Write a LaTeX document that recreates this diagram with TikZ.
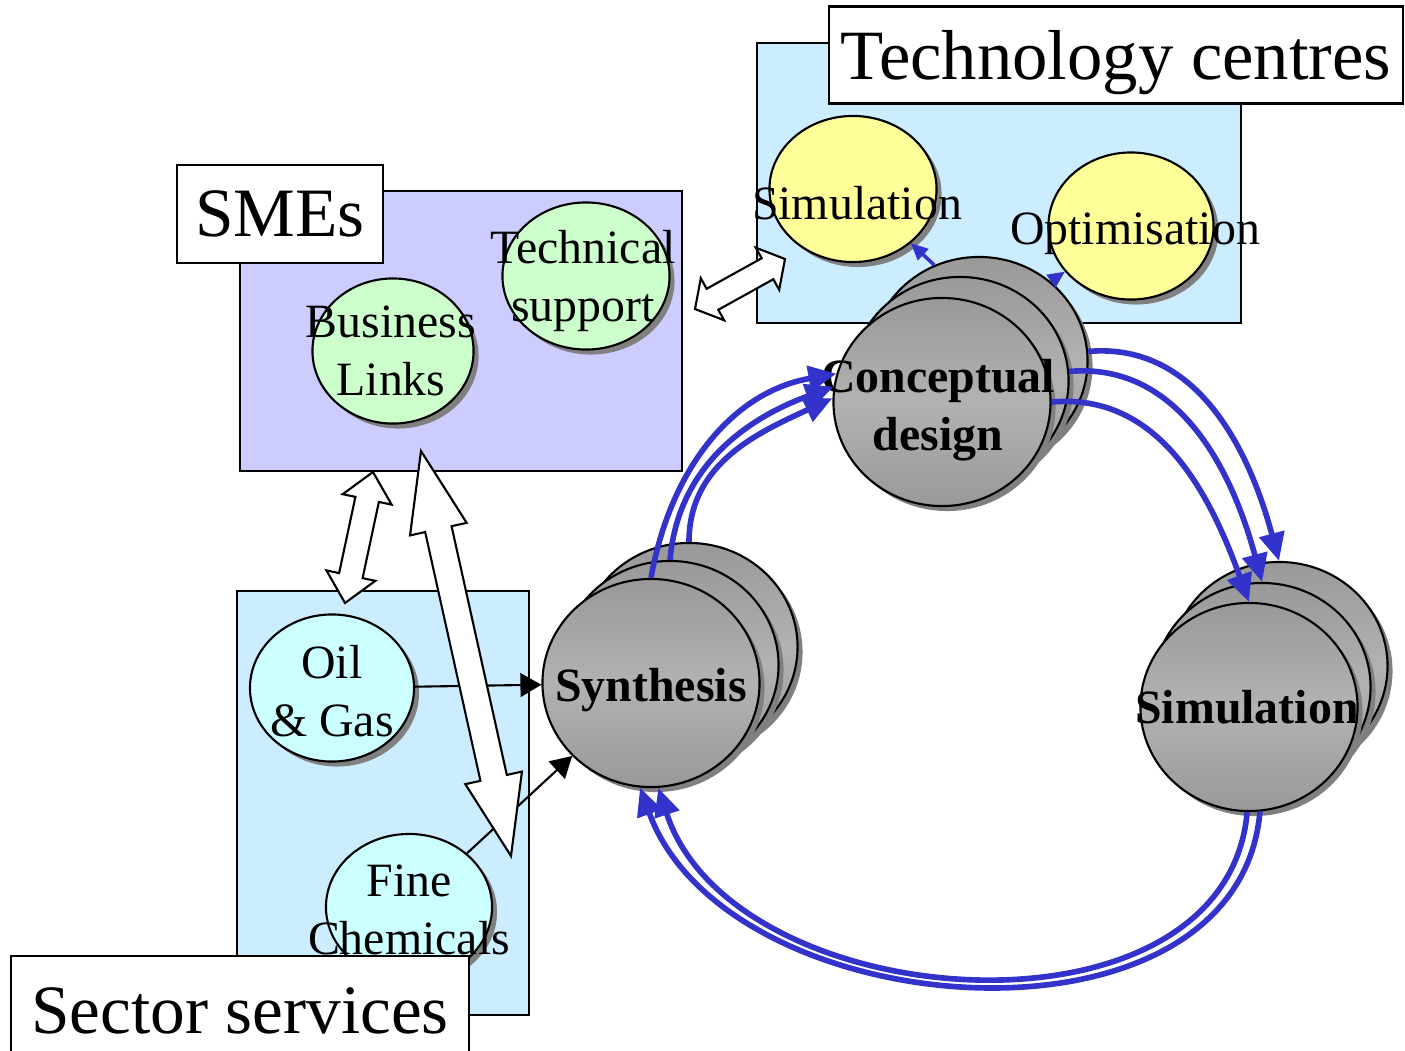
\documentclass[tikz,border=0pt]{standalone}
\usepackage{fontspec}
\setmainfont{Liberation Serif}
\usetikzlibrary{arrows,arrows.meta,shapes.geometric,shadows,calc}

\definecolor{techbg}{HTML}{CCECFF}
\definecolor{smebg}{HTML}{CCCCFF}
\definecolor{ballgreen}{HTML}{CCFFCC}
\definecolor{ballyellow}{HTML}{FFFF99}
\definecolor{ballcyan}{HTML}{CCFFFF}
\definecolor{flowblue}{HTML}{3333CC}
\definecolor{stagedark}{HTML}{999999}
\definecolor{stagelight}{HTML}{B2B2B2}
\definecolor{shade}{HTML}{808080}

\begin{document}
\begin{tikzpicture}[x=0.01cm,y=0.01cm,>=triangle 60,semithick]
  \tikzstyle{area}=[draw,inner sep=0pt]
  \tikzstyle{title}=[draw,fill=white,inner sep=0pt,font=\fontsize{19.7}{23}\selectfont]
  \tikzstyle{ball}=[ellipse,draw,inner sep=0pt,
                    drop shadow={opacity=1,fill=shade,shadow xshift=0.05cm,shadow yshift=-0.05cm}]
  \tikzstyle{stage}=[ball,top color=stagedark,bottom color=stagedark,middle color=stagelight,
                     minimum width=2.17cm,minimum height=2.08cm]
  \tikzstyle{every label}=[align=center,inner sep=0pt,font=\fontsize{13.6}{16.5}\selectfont]
  \tikzstyle{bold label}=[font=\fontsize{13.6}{16.5}\selectfont\bfseries]
  \tikzstyle{flow}=[->,>={Triangle[length=0.28cm,width=0.25cm]},flowblue,line width=1.6pt]
  \tikzstyle{feed}=[->,draw,semithick]
  \tikzstyle{twoway}=[draw,fill=white,semithick]

  \useasboundingbox (0,0) rectangle (1405,-1051);

  % background areas
  \node[area,fill=techbg,minimum width=4.83cm,minimum height=2.80cm] (tech) at (999,-183) {};
  \node[area,fill=smebg,minimum width=4.42cm,minimum height=2.80cm] (sme) at (461,-331) {};
  \node[area,fill=techbg,minimum width=2.92cm,minimum height=4.24cm] (sector) at (383,-803) {};

  % SMEs
  \node[ball,fill=ballgreen,minimum width=1.61cm,minimum height=1.45cm,
        label={[xshift=-0.02cm]center:{Business\\Links}}] (bl) at (393,-351) {};
  \node[ball,fill=ballgreen,minimum width=1.67cm,minimum height=1.47cm,
        label={[xshift=-0.03cm,yshift=-0.05cm]center:{Technical\\support}}] (ts) at (586,-276) {};

  % technology centres
  \node[ball,fill=ballyellow,minimum width=1.67cm,minimum height=1.46cm,
        label={[xshift=0.04cm,yshift=-0.145cm]center:Simulation}] (simtc) at (853,-189) {};
  \node[ball,fill=ballyellow,minimum width=1.65cm,minimum height=1.47cm,
        label={[xshift=0.04cm,yshift=-0.075cm]center:Optimisation}] (opt) at (1131,-226) {};

  % sector services
  \node[ball,fill=ballcyan,minimum width=1.64cm,minimum height=1.47cm,
        label={[yshift=-0.03cm]center:{Oil\\\& Gas}}] (oil) at (332,-688) {};
  \node[ball,fill=ballcyan,minimum width=1.66cm,minimum height=1.46cm,
        label={[yshift=-0.025cm]center:{Fine\\Chemicals}}] (fine) at (409,-907) {};

  % design stages
  \node[stage] (concB) at (979,-361) {};
  \node[stage] (concM) at (960,-381) {};
  \node[stage,label={[bold label,xshift=-0.04cm,yshift=-0.08cm]center:{Conceptual\\design}}] (concF) at (942,-402) {};

  \node[stage] (synB) at (689,-647) {};
  \node[stage] (synM) at (670,-665) {};
  \node[stage,label={[bold label,yshift=-0.075cm]center:Synthesis}] (synF) at (651,-683) {};

  \node[stage] (simB) at (1279,-666) {};
  \node[stage] (simM) at (1262,-687) {};
  \node[stage,label={[bold label,xshift=-0.02cm]center:Simulation}] (simF) at (1249,-707) {};

  \path[feed] (oil) edge (synF)
              (fine) edge (synF);

  % two-way links
  \coordinate (smeA) at (373,-472);
  \coordinate (secA) at (345,-603);
  \coordinate (smeB) at (421,-451);
  \coordinate (secB) at (511,-856);
  \coordinate (smeC) at (695,-309);
  \coordinate (techC) at (785,-259);

  \foreach \p/\q/\s/\h/\l in {smeA/secA/0.12cm/0.25cm/0.28cm,
                              smeB/secB/0.135cm/0.29cm/0.80cm,
                              smeC/techC/0.12cm/0.24cm/0.20cm}
    \draw[twoway] (\p) -- ($(\p)!\l!(\q)!\h!90:(\q)$) -- ($(\p)!\l!(\q)!\s!90:(\q)$)
                  -- ($(\q)!\l!(\p)!\s!-90:(\p)$) -- ($(\q)!\l!(\p)!\h!-90:(\p)$) -- (\q)
                  -- ($(\q)!\l!(\p)!\h!90:(\p)$) -- ($(\q)!\l!(\p)!\s!90:(\p)$)
                  -- ($(\p)!\l!(\q)!\s!-90:(\q)$) -- ($(\p)!\l!(\q)!\h!-90:(\q)$) -- cycle;

  % design loop
  \path[flow]
    (synF.north) edge [out=80,in=190]  (concF.165)
    (synM.north) edge [out=85,in=200]  (concF.172)
    (synB.north) edge [out=90,in=205]  (concF.178)

    (concB.5)    edge [out=5,in=105]   (simB.north)
    (concM.5)    edge [out=5,in=105]   (simM.north)
    (concF.east) edge [out=5,in=110]   (simF.north)

    (simF.-84)   edge [out=-95,in=-70,looseness=1.05] (synF.-96)
    (simF.-91)   edge [out=-95,in=-72,looseness=1.05] (synF.-86);

  \path[flow,line width=1pt,>={Triangle[length=0.17cm,width=0.15cm]}]
    (concB.115) edge (simtc)
    (concB.48)  edge (opt);

  % titles
  \node[title,minimum width=5.74cm,minimum height=0.97cm,text depth=0pt,
        font=\fontsize{20.1}{23}\selectfont] (techtitle) at (1116,-55) {Technology centres};
  \node[title,minimum width=2.05cm,minimum height=0.98cm] (smetitle) at (280,-214) {SMEs};
  \node[title,minimum width=4.57cm,minimum height=1.10cm] (sectortitle) at (240,-1011) {Sector services};
\end{tikzpicture}
\end{document}
